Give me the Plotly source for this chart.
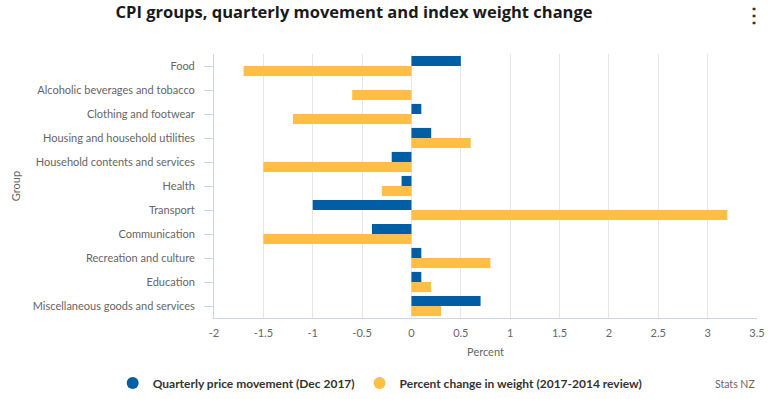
import plotly.graph_objects as go

categories = [
    "Food",
    "Alcoholic beverages and tobacco",
    "Clothing and footwear",
    "Housing and household utilities",
    "Household contents and services",
    "Health",
    "Transport",
    "Communication",
    "Recreation and culture",
    "Education",
    "Miscellaneous goods and services",
]
quarterly_movement = [0.5, 0.0, 0.1, 0.2, -0.2, -0.1, -1.0, -0.4, 0.1, 0.1, 0.7]
weight_change = [-1.7, -0.6, -1.2, 0.6, -1.5, -0.3, 3.2, -1.5, 0.8, 0.2, 0.3]
x_ticks = [-2, -1.5, -1, -0.5, 0, 0.5, 1, 1.5, 2, 2.5, 3, 3.5]
series_names = ["Quarterly price movement (Dec 2017)", "Percent change in weight (2017-2014 review)"]
colors = ["#005EA5", "#FFBE45"]

FONT = "Lato, Open Sans, sans-serif"

fig = go.Figure()
for name, vals, col in zip(series_names, [quarterly_movement, weight_change], colors):
    fig.add_trace(go.Bar(
        y=categories, x=vals, orientation="h", name=name,
        marker=dict(color=col, line=dict(width=0)),
        showlegend=False,
        hovertemplate="%{y}: %{x}<extra>" + name + "</extra>",
    ))
    fig.add_trace(go.Scatter(
        x=[None], y=[None], mode="markers", name=name,
        marker=dict(color=col, size=12, symbol="circle"),
        showlegend=True,
    ))

fig.update_layout(
    width=768, height=399,
    margin=dict(l=214, r=11, t=54, b=81, autoexpand=False),
    paper_bgcolor="white", plot_bgcolor="white",
    barmode="group", bargap=0.16, bargroupgap=0,
    font=dict(family=FONT, color="#666666", size=11),
    title=dict(
        text="<b>CPI groups, quarterly movement and index weight change</b>",
        x=0.461, xanchor="center", y=0.97, yanchor="middle",
        font=dict(family="Open Sans, sans-serif", size=16.5, color="#1a1a1a"),
    ),
    legend=dict(
        orientation="h", xref="container", yref="container",
        x=0.495, xanchor="center", y=0.04, yanchor="middle",
        font=dict(family=FONT, size=12, color="#333333", weight="bold"),
        itemwidth=30, tracegroupgap=0,
    ),
    xaxis=dict(
        range=[-2, 3.5], tickvals=x_ticks,
        ticktext=[str(v) for v in x_ticks],
        showgrid=True, gridcolor="#e6e6e6", gridwidth=1,
        zeroline=False, automargin=True,
        showline=True, linecolor="#ccd6eb", linewidth=1,
        ticks="", ticklabelstandoff=5, tickfont=dict(size=11, color="#666666"),
        title=dict(text="Percent", font=dict(size=11, color="#666666"), standoff=10),
    ),
    yaxis=dict(
        autorange="reversed", automargin=True,
        showgrid=False, zeroline=False,
        showline=True, linecolor="#ccd6eb", linewidth=1,
        ticks="outside", ticklen=9, tickcolor="#ccd6eb",
        ticklabelstandoff=7,
        tickfont=dict(size=11, color="#666666"),
        title=dict(text="Group", font=dict(size=11, color="#666666"), standoff=9),
    ),
)

fig.add_annotation(
    text="Stats NZ", xref="paper", yref="paper",
    x=1.0, xanchor="right", y=-0.25, yanchor="middle",
    showarrow=False, font=dict(family=FONT, size=10.5, color="#666666"),
)
fig.add_annotation(
    text="<b>⋮</b>", xref="paper", yref="paper",
    x=0.9945, xanchor="center", y=1.15, yanchor="middle",
    showarrow=False, font=dict(family=FONT, size=20, color="#333333"),
)

fig.write_html(
    "out.html",
    config={"displayModeBar": False},
    post_script="document.body.style.margin='0';",
)
